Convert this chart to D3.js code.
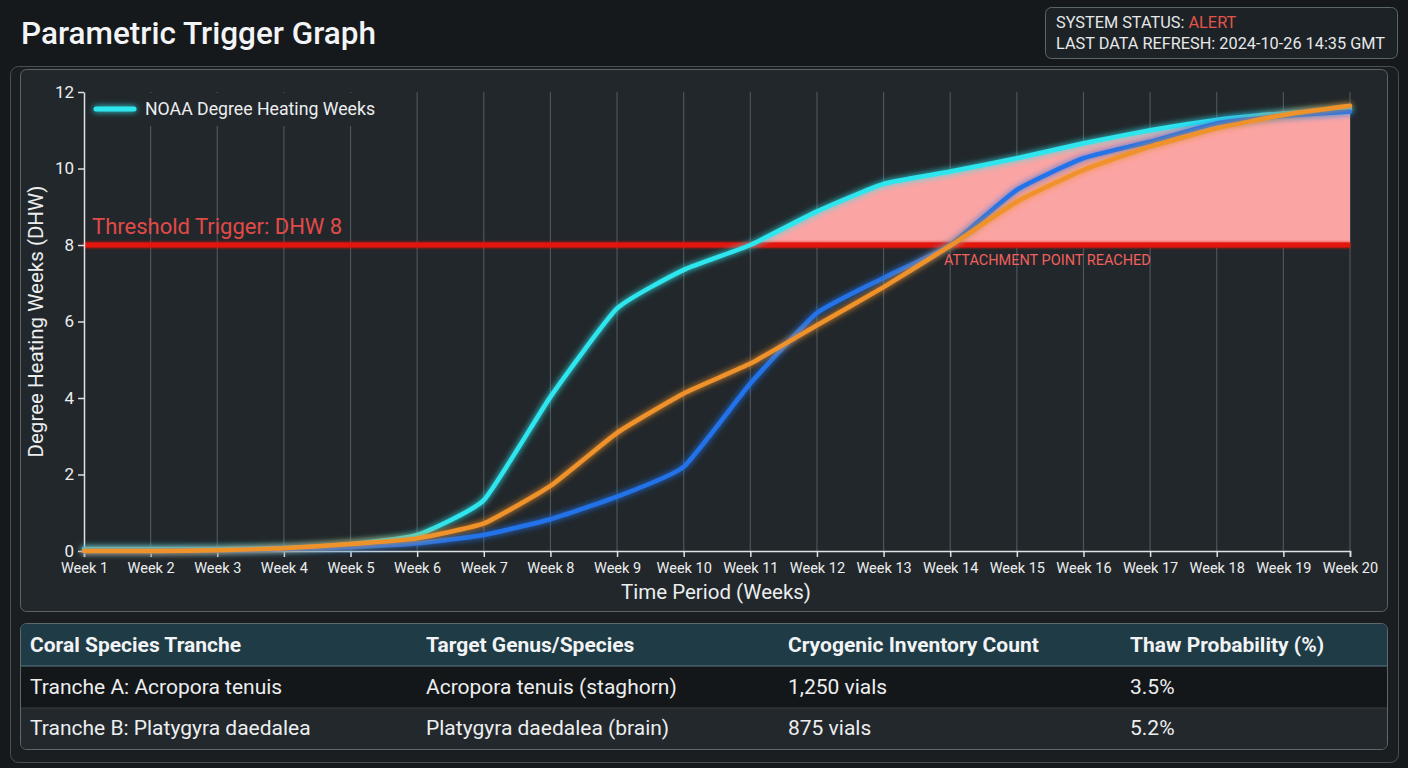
<!DOCTYPE html>
<html>
<head>
<meta charset="utf-8">
<script src="https://cdn.jsdelivr.net/npm/d3@7"></script>
<style>
  html, body { margin: 0; padding: 0; background: #16191c; }
  svg { display: block; font-family: Roboto, "Noto Sans", sans-serif; }
</style>
</head>
<body>
<div id="container"></div>
<script>
let w = 1408;
let h = 768;

// data
let weeks = d3.range(1, 21).map(function(i){ return 'Week ' + i; });
let noaa    = [0.05, 0.05, 0.05, 0.08, 0.18, 0.42, 1.33, 4.03, 6.34, 7.35, 8.0, 8.88, 9.6, 9.92, 10.27, 10.66, 11.0, 11.27, 11.44, 11.55];
let blueSeries   = [0.0, 0.0, 0.01, 0.05, 0.1, 0.2, 0.42, 0.83, 1.42, 2.2, 4.38, 6.22, 7.14, 8.0, 9.44, 10.27, 10.7, 11.18, 11.37, 11.49];
let orangeSeries = [0.0, 0.0, 0.02, 0.07, 0.18, 0.33, 0.72, 1.7, 3.09, 4.12, 4.9, 5.9, 6.9, 7.98, 9.13, 9.96, 10.57, 11.05, 11.4, 11.64];
let threshold = 8;
let yTicks = [0, 2, 4, 6, 8, 10, 12];

let tableHeader = ['Coral Species Tranche', 'Target Genus/Species', 'Cryogenic Inventory Count', 'Thaw Probability (%)'];
let tableRows = [
  ['Tranche A: Acropora tenuis', 'Acropora tenuis (staghorn)', '1,250 vials', '3.5%'],
  ['Tranche B: Platygyra daedalea', 'Platygyra daedalea (brain)', '875 vials', '5.2%']
];
let colX = [30, 426, 788, 1130];

let viz = d3.select('#container')
  .append('svg')
    .attr('width', w)
    .attr('height', h)
    .style('background-color', '#16191c')
;

let defs = viz.append('defs');

// glow filters in user space so flat lines still render
function makeGlow(id, dev){
  let f = defs.append('filter').attr('id', id)
    .attr('filterUnits', 'userSpaceOnUse')
    .attr('x', 0).attr('y', 0).attr('width', w).attr('height', h);
  f.append('feGaussianBlur').attr('in', 'SourceGraphic').attr('stdDeviation', dev).attr('result', 'blur');
  let m = f.append('feMerge');
  m.append('feMergeNode').attr('in', 'blur');
  m.append('feMergeNode').attr('in', 'SourceGraphic');
}
makeGlow('glow', 3);
makeGlow('softglow', 1.5);

// header
viz.append('text')
  .attr('x', 21).attr('y', 44)
  .attr('fill', '#f2f4f5')
  .attr('font-size', '31.5px')
  .attr('font-weight', 500)
  .text('Parametric Trigger Graph');

viz.append('rect')
  .attr('x', 1045.5).attr('y', 7.5).attr('width', 352).attr('height', 51)
  .attr('rx', 6)
  .attr('fill', '#1d2226').attr('stroke', '#5b666b');

let st = viz.append('text').attr('x', 1056).attr('y', 28).attr('font-size', '16.3px').attr('fill', '#e6e8e9');
st.append('tspan').text('SYSTEM STATUS: ');
st.append('tspan').attr('fill', '#e5534b').text('ALERT');
viz.append('text').attr('x', 1056).attr('y', 49).attr('font-size', '16.3px').attr('fill', '#e6e8e9')
  .text('LAST DATA REFRESH: 2024-10-26 14:35 GMT');

// panels
viz.append('rect')
  .attr('x', 10.5).attr('y', 66.5).attr('width', 1388).attr('height', 696)
  .attr('rx', 8)
  .attr('fill', '#1a1e21').attr('stroke', '#465055');

viz.append('rect')
  .attr('x', 20.5).attr('y', 69.5).attr('width', 1367).attr('height', 542)
  .attr('rx', 6)
  .attr('fill', '#22272b').attr('stroke', '#5a6469');

// scales
let xScale = d3.scalePoint().domain(weeks).range([84, 1350]);
let yScale = d3.scaleLinear().domain([0, 12]).range([551, 92]);
let curve = d3.curveCardinal.tension(0.55);

// vertical grid
viz.append('g').classed('grid', true)
  .selectAll('line').data(weeks.slice(1)).enter().append('line')
    .attr('x1', function(d){ return xScale(d); })
    .attr('x2', function(d){ return xScale(d); })
    .attr('y1', yScale(12))
    .attr('y2', yScale(0))
    .attr('stroke', '#4c555b')
    .attr('stroke-width', 1.2)
;

// fill above threshold
defs.append('clipPath').attr('id', 'above')
  .append('rect')
    .attr('x', 84).attr('y', yScale(12))
    .attr('width', 1266).attr('height', yScale(threshold) - yScale(12));

let area = d3.area()
  .x(function(d, i){ return xScale(weeks[i]); })
  .y0(yScale(threshold))
  .y1(function(d){ return yScale(d); })
  .curve(curve);

viz.append('path')
  .datum(noaa)
  .attr('d', area)
  .attr('fill', '#fba4a4')
  .attr('clip-path', 'url(#above)');

// threshold line
viz.append('line')
  .attr('x1', 84).attr('x2', 1350)
  .attr('y1', yScale(threshold)).attr('y2', yScale(threshold))
  .attr('stroke', '#e3120f')
  .attr('stroke-width', 5)
  .attr('filter', 'url(#softglow)');

viz.append('text')
  .attr('x', 92).attr('y', yScale(threshold) - 11)
  .attr('font-size', '22px')
  .attr('fill', '#e24a48')
  .text('Threshold Trigger: DHW ' + threshold);

viz.append('text')
  .attr('x', 944).attr('y', yScale(threshold) + 20)
  .attr('font-size', '14.5px')
  .attr('fill', '#f0605c')
  .text('ATTACHMENT POINT REACHED');

// axes
let xAxis = d3.axisBottom(xScale).tickSizeOuter(6).tickSize(6).tickPadding(6);
let xAxisGroup = viz.append('g')
  .attr('transform', 'translate(0,' + yScale(0) + ')')
  .call(xAxis);
xAxisGroup.selectAll('path, line').attr('stroke', '#dfe2e4').attr('stroke-width', 1.5);
xAxisGroup.selectAll('text').attr('fill', '#eceeef').attr('font-size', '14.5px').attr('font-family', 'Roboto');

let yAxis = d3.axisLeft(yScale).tickValues(yTicks).tickSize(6).tickSizeOuter(0).tickPadding(4);
let yAxisGroup = viz.append('g')
  .attr('transform', 'translate(84,0)')
  .call(yAxis);
yAxisGroup.selectAll('path, line').attr('stroke', '#dfe2e4').attr('stroke-width', 1.5);
yAxisGroup.selectAll('text').attr('fill', '#eceeef').attr('font-size', '17px').attr('font-family', 'Roboto');

viz.append('text')
  .attr('x', 716).attr('y', 599)
  .attr('text-anchor', 'middle')
  .attr('font-size', '20.5px')
  .attr('fill', '#eceeef')
  .text('Time Period (Weeks)');

viz.append('text')
  .attr('transform', 'translate(43,' + yScale(6) + ') rotate(-90)')
  .attr('text-anchor', 'middle')
  .attr('font-size', '20.5px')
  .attr('fill', '#eceeef')
  .text('Degree Heating Weeks (DHW)');

// lines
let line = d3.line()
  .x(function(d, i){ return xScale(weeks[i]); })
  .y(function(d){ return yScale(d); })
  .curve(curve);

let series = [
  { values: noaa, color: '#2ee6ee' },
  { values: blueSeries, color: '#2173ea' },
  { values: orangeSeries, color: '#f0922c' }
];

viz.append('g').classed('lines', true)
  .selectAll('path').data(series).enter().append('path')
    .attr('d', function(d){ return line(d.values); })
    .attr('fill', 'none')
    .attr('stroke', function(d){ return d.color; })
    .attr('stroke-width', 4.5)
    .attr('stroke-linecap', 'round')
    .attr('stroke-linejoin', 'round')
    .attr('filter', 'url(#glow)')
;

// legend
viz.append('rect')
  .attr('x', 88).attr('y', 93).attr('width', 300).attr('height', 33)
  .attr('fill', '#22272b');
viz.append('line')
  .attr('x1', 96).attr('x2', 134).attr('y1', 109).attr('y2', 109)
  .attr('stroke', '#2ee6ee').attr('stroke-width', 5).attr('stroke-linecap', 'round')
  .attr('filter', 'url(#glow)');
viz.append('text')
  .attr('x', 145).attr('y', 115)
  .attr('font-size', '17.7px')
  .attr('fill', '#eceeef')
  .text('NOAA Degree Heating Weeks');

// table
let tbl = viz.append('g').classed('table', true);
tbl.append('rect')
  .attr('x', 20.5).attr('y', 623.5).attr('width', 1367).attr('height', 126)
  .attr('rx', 6)
  .attr('fill', '#23282c').attr('stroke', '#5c6a70');

defs.append('clipPath').attr('id', 'tblclip')
  .append('rect').attr('x', 21).attr('y', 624).attr('width', 1366).attr('height', 125).attr('rx', 5);

let rowY = [624, 666, 708];
let rowH = [42, 42, 41];
let rowFill = ['#1f3b46', '#141719', '#23282c'];

tbl.append('g').attr('clip-path', 'url(#tblclip)')
  .selectAll('rect').data(rowY).enter().append('rect')
    .attr('x', 21).attr('y', function(d){ return d; })
    .attr('width', 1366)
    .attr('height', function(d, i){ return rowH[i]; })
    .attr('fill', function(d, i){ return rowFill[i]; })
;

tbl.selectAll('line.sep').data([666, 708]).enter().append('line')
  .attr('x1', 21).attr('x2', 1387)
  .attr('y1', function(d){ return d; }).attr('y2', function(d){ return d; })
  .attr('stroke', function(d, i){ return i == 0 ? '#5f7a84' : '#394146'; })
  .attr('stroke-width', 1.2);

tbl.selectAll('text.head').data(tableHeader).enter().append('text')
  .attr('x', function(d, i){ return colX[i]; })
  .attr('y', 652)
  .attr('font-size', '21px')
  .attr('font-weight', 700)
  .attr('fill', '#f1f3f4')
  .text(function(d){ return d; });

tableRows.forEach(function(row, r){
  tbl.selectAll('text.r' + r).data(row).enter().append('text')
    .attr('x', function(d, i){ return colX[i]; })
    .attr('y', r == 0 ? 694 : 735)
    .attr('font-size', '21px')
    .attr('fill', '#eceeef')
    .text(function(d){ return d; });
});
</script>
</body>
</html>
